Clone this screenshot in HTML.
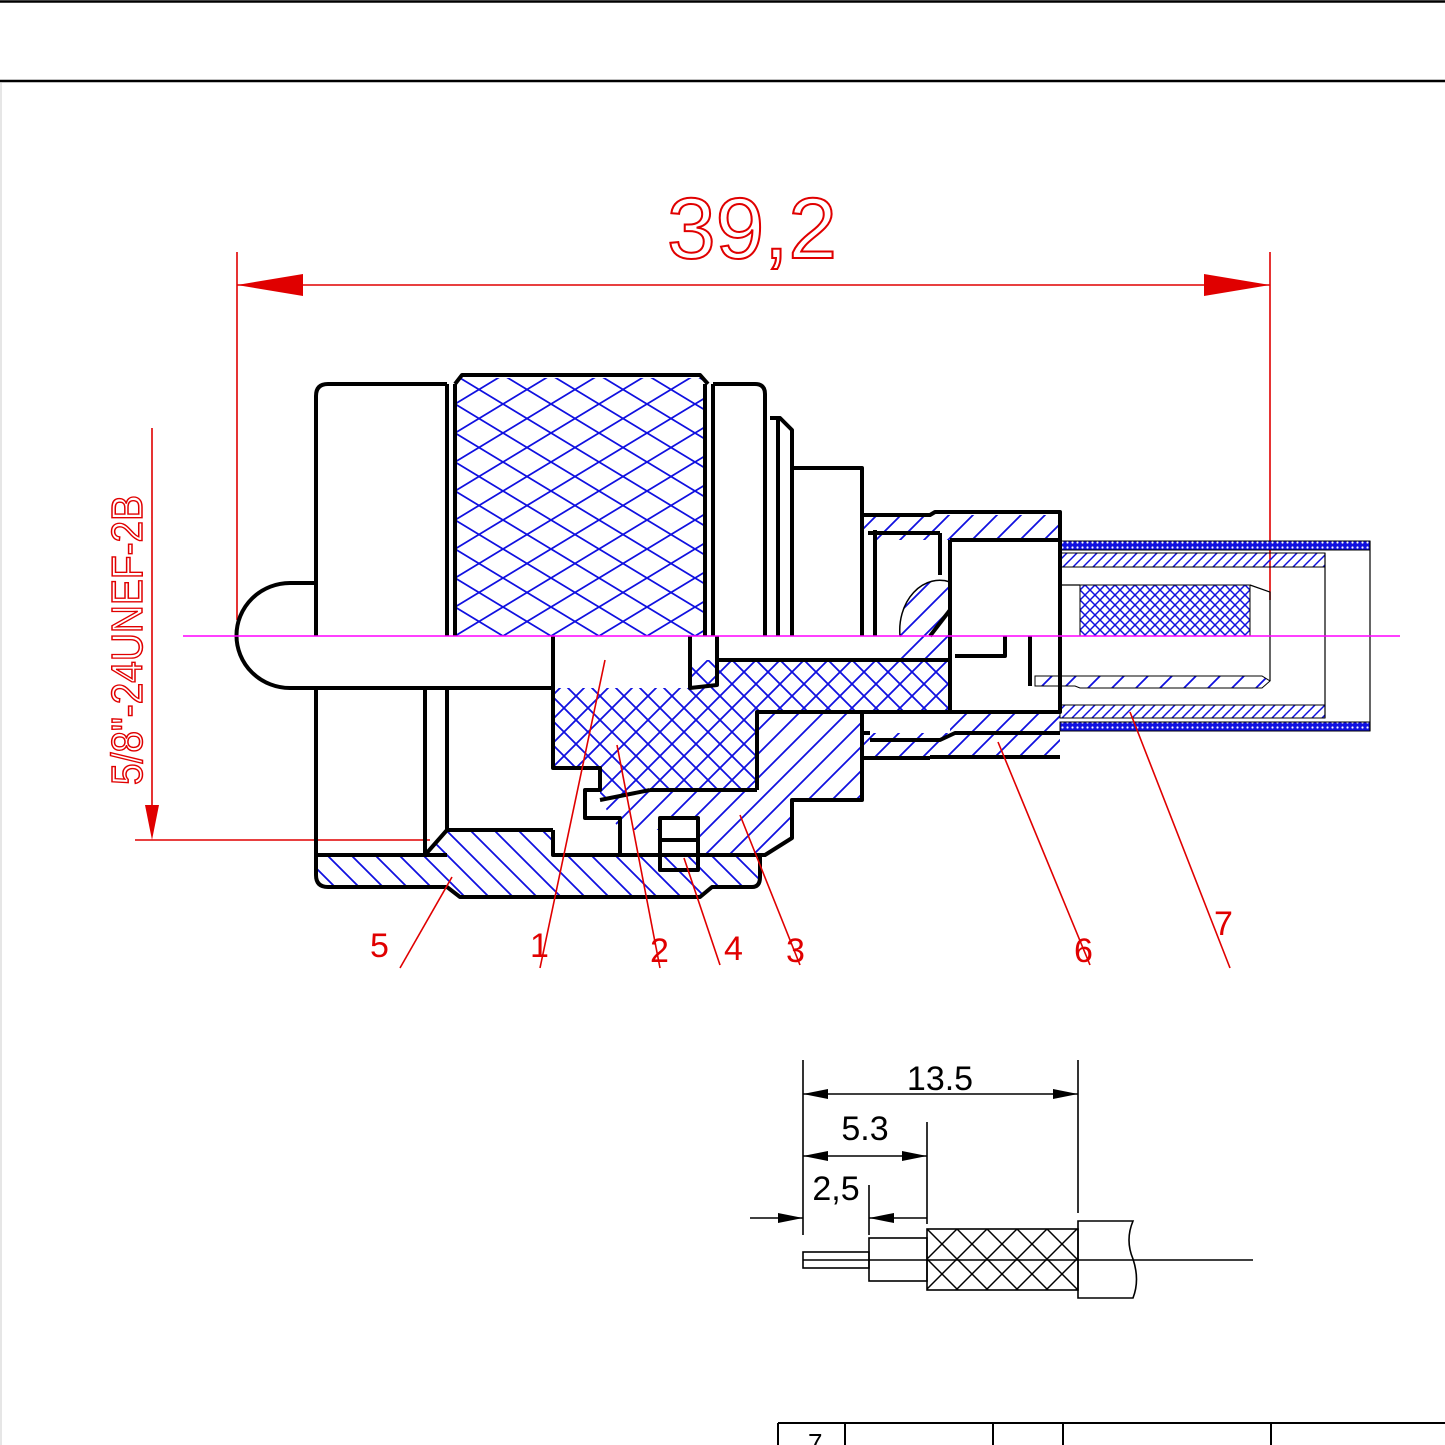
<!DOCTYPE html>
<html><head><meta charset="utf-8"><style>html,body{margin:0;padding:0;background:#fff}svg{display:block}</style></head>
<body>
<svg width="1445" height="1445" viewBox="0 0 1445 1445" xmlns="http://www.w3.org/2000/svg">
<defs>
<pattern id="knurl" patternUnits="userSpaceOnUse" width="48" height="29" x="455" y="375">
<path d="M0,0L48,29M0,29L48,0" stroke="#1010e0" stroke-width="1.8"/></pattern>
<pattern id="xh" patternUnits="userSpaceOnUse" width="24" height="24">
<path d="M0,0L24,24M0,24L24,0" stroke="#1010e0" stroke-width="1.8"/></pattern>
<pattern id="fx" patternUnits="userSpaceOnUse" width="10" height="10">
<path d="M0,0L10,10M0,10L10,0" stroke="#1010e0" stroke-width="1.5"/></pattern>
<pattern id="d1" patternUnits="userSpaceOnUse" width="24" height="24">
<path d="M-6,30L30,-6M-6,6L6,-6M18,30L30,18" stroke="#1010e0" stroke-width="1.8"/></pattern>
<pattern id="d2" patternUnits="userSpaceOnUse" width="24" height="24">
<path d="M-6,-6L30,30M-6,18L6,30M18,-6L30,6" stroke="#1010e0" stroke-width="1.8"/></pattern>
<pattern id="d3" patternUnits="userSpaceOnUse" width="10" height="10">
<path d="M-3,13L13,-3M-3,3L3,-3M7,13L13,7" stroke="#1010e0" stroke-width="1.5"/></pattern>
<pattern id="dots" patternUnits="userSpaceOnUse" width="5" height="5">
<rect width="5" height="5" fill="#1010e0"/><circle cx="2.5" cy="2.5" r="1.1" fill="#fff"/></pattern>
<pattern id="bx" patternUnits="userSpaceOnUse" width="30" height="30" x="927" y="1229">
<path d="M0,0L30,30M0,30L30,0" stroke="#000" stroke-width="1.5"/></pattern>
</defs>

<!-- frame -->
<line x1="0" y1="1.5" x2="1445" y2="1.5" stroke="#000" stroke-width="2.5"/>
<line x1="0" y1="81" x2="1445" y2="81" stroke="#000" stroke-width="2.5"/>
<line x1="1" y1="83" x2="1" y2="1445" stroke="#ccc" stroke-width="1"/>

<!-- dimension 39,2 -->
<g stroke="#e00000" stroke-width="1.6" fill="none">
<line x1="237" y1="252" x2="237" y2="620"/>
<line x1="1270" y1="252" x2="1270" y2="600"/>
<line x1="237" y1="285" x2="1270" y2="285"/>
<line x1="152" y1="428" x2="152" y2="830"/>
<line x1="135" y1="840" x2="430" y2="840"/>
</g>
<path d="M237,285L303,274L303,296Z M1270,285L1204,274L1204,296Z M152,840L145,805L159,805Z" fill="#e00000"/>
<text x="752" y="258" font-family="Liberation Sans, sans-serif" font-size="86" fill="none" stroke="#e00000" stroke-width="2" text-anchor="middle" textLength="170" lengthAdjust="spacingAndGlyphs">39,2</text>
<text transform="translate(142,640) rotate(-90)" font-family="Liberation Sans, sans-serif" font-size="44" fill="none" stroke="#e00000" stroke-width="1.5" text-anchor="middle" textLength="290" lengthAdjust="spacingAndGlyphs">5/8"-24UNEF-2B</text>

<!-- fills -->
<rect x="455" y="378" width="250" height="258" fill="url(#knurl)"/>
<path d="M553,688 L690,688 L690,660 L717,660 L950,660 L950,712 L757,712 L757,790 L650,790 L600,800 L600,768 L553,768 Z" fill="url(#xh)"/>
<path d="M757,712 L862,712 L862,800 L792,800 L792,838 L765,855 L700,855 L700,818 L660,818 L660,830 L620,830 L600,800 L650,790 L757,790 Z" fill="url(#d1)"/>
<path d="M316,855 L425,855 L447,830 L553,830 L553,855 L760,855 L760,885 L712,887 L700,897 L460,897 L447,887 L316,887 Z" fill="url(#d2)"/>
<path d="M900,636 A40,50 0 0 1 950,582 L950,660 L900,660 Z" fill="url(#d1)"/>
<rect x="862" y="515" width="198" height="25" fill="url(#d1)"/>
<rect x="862" y="733" width="198" height="25" fill="url(#d1)"/>
<rect x="950" y="712" width="110" height="20" fill="url(#d1)"/>
<rect x="1060" y="541" width="310" height="9" fill="url(#dots)" stroke="#000" stroke-width="1"/>
<rect x="1060" y="722" width="310" height="9" fill="url(#dots)" stroke="#000" stroke-width="1"/>
<rect x="1060" y="553" width="265" height="14" fill="url(#d3)" stroke="#000" stroke-width="1"/>
<rect x="1060" y="705" width="265" height="13" fill="url(#d3)" stroke="#000" stroke-width="1"/>
<rect x="1080" y="585" width="170" height="51" fill="url(#fx)" stroke="#000" stroke-width="1"/>
<path d="M1035,676 L1262,676 L1270,681 L1262,688 L1080,688 L1075,686 L1035,686 Z" fill="url(#d1)" stroke="#000" stroke-width="1"/>
<g stroke="#000" stroke-width="1.2" fill="none">
<path d="M1060,585 L1080,585 M1250,585 L1270,592 L1270,681"/>
<line x1="1325" y1="553" x2="1325" y2="718"/>
<line x1="1370" y1="541" x2="1370" y2="731"/>
</g>

<!-- black outlines -->
<g stroke="#000" stroke-width="4" fill="none" stroke-linejoin="round">
<!-- nut -->
<path d="M447,384 L328,384 Q316,384 316,396 L316,636"/>
<path d="M316,688 L316,875 Q316,887 328,887 L447,887 L460,897 L700,897 L712,887 L752,887 Q760,887 760,877 L760,855"/>
<line x1="447" y1="384" x2="447" y2="636"/>
<line x1="455" y1="384" x2="455" y2="636"/>
<path d="M447,855 L316,855"/>
<path d="M425,688 L425,855 L447,830 L553,830"/>
<line x1="447" y1="688" x2="447" y2="830"/>
<!-- pin -->
<path d="M316,583 L290,583 A53,52 0 0 0 290,688 L553,688"/>
<!-- knurl -->
<path d="M455,384 L462,375 L700,375 L708,384"/>
<line x1="705" y1="384" x2="705" y2="636"/>
<line x1="713" y1="384" x2="713" y2="636"/>
<path d="M713,384 L755,384 Q765,384 765,394 L765,636"/>
<path d="M770,418 L780,418 L792,430 L792,636"/>
<line x1="778" y1="418" x2="778" y2="636"/>
<path d="M792,468 L862,468 L862,636"/>
<line x1="875" y1="530" x2="875" y2="636"/>
<!-- contact -->
<path d="M553,636 L553,768 L600,768 L600,790 M553,688 L553,636"/>
<path d="M690,636 L690,688 L717,685 L717,636"/>
<path d="M717,660 L950,660"/>
<!-- insulator/body -->
<path d="M757,790 L757,712 L950,712"/>
<path d="M600,768 L600,790 L585,790 L585,818 L620,818 L620,855"/>
<path d="M650,790 L600,800"/>
<path d="M650,790 L757,790"/>
<path d="M862,712 L862,800 L792,800 L792,838 L765,855 L553,855 L553,830"/>
<!-- ring 4 -->
<rect x="660" y="818" width="38" height="52"/>
<line x1="660" y1="840" x2="698" y2="840"/>
<!-- right shell -->
<path d="M862,515 L930,515 L935,512 L1060,512 L1060,540"/>
<path d="M950,540 L1060,540 L1060,712 L950,712 L950,540"/>
<path d="M868,533 L940,533 M940,533 L940,575"/>
<path d="M862,733 L870,733 M870,740 L940,740 L955,733 L1060,733 M930,757 L1060,757 M862,758 L930,758"/>
<path d="M1030,636 L1030,686 M1005,636 L1005,656 L955,656"/>
<path d="M950,610 L930,636"/>
</g>
<path d="M900,636 A40,50 0 0 1 950,582" stroke="#000" stroke-width="1.5" fill="none"/>

<!-- center line -->
<line x1="183" y1="636" x2="1400" y2="636" stroke="#ff00ff" stroke-width="1.5"/>

<!-- leaders and labels -->
<g stroke="#e00000" stroke-width="1.6">
<line x1="400" y1="968" x2="452" y2="877"/>
<line x1="540" y1="968" x2="605" y2="660"/>
<line x1="660" y1="968" x2="617" y2="745"/>
<line x1="720" y1="965" x2="684" y2="858"/>
<line x1="800" y1="965" x2="740" y2="815"/>
<line x1="1090" y1="965" x2="998" y2="742"/>
<line x1="1230" y1="968" x2="1130" y2="712"/>
</g>
<g font-family="Liberation Sans, sans-serif" font-size="34" fill="#e00000">
<text x="370" y="957">5</text>
<text x="530" y="957">1</text>
<text x="650" y="962">2</text>
<text x="724" y="960">4</text>
<text x="786" y="962">3</text>
<text x="1074" y="962">6</text>
<text x="1214" y="935">7</text>
</g>

<!-- cable stripping drawing -->
<g stroke="#000" stroke-width="1.6" fill="none">
<line x1="803" y1="1060" x2="803" y2="1235"/>
<line x1="1078" y1="1060" x2="1078" y2="1213"/>
<line x1="927" y1="1122" x2="927" y2="1224"/>
<line x1="869" y1="1185" x2="869" y2="1235"/>
<line x1="803" y1="1094" x2="1078" y2="1094"/>
<line x1="803" y1="1156" x2="927" y2="1156"/>
<line x1="750" y1="1218" x2="803" y2="1218"/>
<line x1="869" y1="1218" x2="927" y2="1218"/>
<rect x="803" y="1252" width="66" height="16"/>
<rect x="869" y="1238" width="58" height="43"/>
<rect x="927" y="1229" width="151" height="61" fill="url(#bx)"/>
<path d="M1078,1221 L1133,1221 Q1125,1240 1133,1259 Q1140,1280 1133,1298 L1078,1298 Z"/>
<line x1="803" y1="1260" x2="1253" y2="1260"/>
</g>
<path d="M803,1094 L828,1089 L828,1099Z M1078,1094 L1053,1089 L1053,1099Z M803,1156 L828,1151 L828,1161Z M927,1156 L902,1151 L902,1161Z M803,1218 L778,1213 L778,1223Z M869,1218 L894,1213 L894,1223Z" fill="#000"/>
<g font-family="Liberation Sans, sans-serif" font-size="34" fill="#000">
<text x="940" y="1090" text-anchor="middle">13.5</text>
<text x="865" y="1140" text-anchor="middle">5.3</text>
<text x="836" y="1200" text-anchor="middle">2,5</text>
</g>

<!-- table -->
<g stroke="#000" stroke-width="2" fill="none">
<line x1="778" y1="1423" x2="1445" y2="1423"/>
<line x1="778" y1="1423" x2="778" y2="1445"/>
<line x1="845" y1="1423" x2="845" y2="1445"/>
<line x1="993" y1="1423" x2="993" y2="1445"/>
<line x1="1063" y1="1423" x2="1063" y2="1445"/>
<line x1="1271" y1="1423" x2="1271" y2="1445"/>
</g>
<text x="808" y="1452" font-family="Liberation Sans, sans-serif" font-size="26" fill="#000">7</text>
</svg>
</body></html>
